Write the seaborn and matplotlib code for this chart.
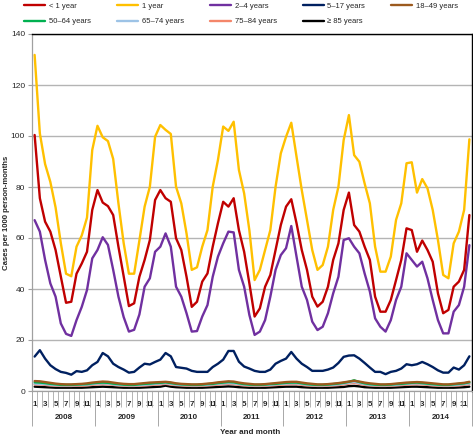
import numpy as np
import pandas as pd
import matplotlib
matplotlib.use('Agg')
import matplotlib.pyplot as plt
import seaborn as sns

sns.set_style('white')
plt.rcParams['font.family'] = ['Liberation Sans', 'DejaVu Sans']

years = [2008, 2009, 2010, 2011, 2012, 2013, 2014]
month_labels = ['1', '', '3', '', '5', '', '7', '', '9', '', '11', '']
groups = ['< 1 year', '1 year', '2–4 years', '5–17 years', '18–49 years',
          '50–64 years', '65–74 years', '75–84 years', '≥ 85 years']
colors = ['#c00000', '#ffc000', '#7030a0', '#002060', '#9c5a1e',
          '#00b050', '#9dc3e6', '#f4866a', '#000000']

# monthly rates per 1000 person-months, Jan 2008 .. Dec 2014
under_1 = [100.4, 75.6, 66.4, 62.5, 55.3, 44.9, 34.6, 35.0, 46.0, 50.0, 54.6, 71.0,
           78.8, 73.9, 72.5, 69.0, 56.6, 45.0, 33.3, 34.4, 44.8, 51.4, 59.2, 74.9,
           78.8, 75.6, 74.2, 59.9, 55.3, 44.8, 33.0, 35.0, 42.9, 46.1, 56.6, 65.8,
           74.2, 72.3, 75.6, 63.1, 54.6, 42.2, 29.2, 32.4, 40.9, 45.5, 55.3, 65.1,
           72.3, 75.2, 65.8, 55.3, 47.5, 37.0, 33.1, 35.0, 40.9, 51.4, 57.9, 71.0,
           77.8, 65.1, 62.5, 56.6, 51.4, 37.0, 31.1, 31.1, 35.7, 43.5, 51.4, 63.8,
           63.1, 54.6, 59.0, 55.3, 50.7, 38.3, 30.5, 31.8, 40.9, 42.9, 47.5, 69.0]
one_year = [131.8, 101.0, 89.0, 82.0, 72.0, 58.0, 46.0, 45.0, 56.6, 61.0, 68.0, 94.5,
            104.0, 99.5, 98.0, 91.0, 73.6, 58.0, 46.0, 46.0, 59.0, 72.3, 80.1, 99.7,
            104.3, 102.4, 100.8, 80.1, 73.6, 61.8, 47.5, 48.5, 56.6, 63.1, 80.1, 90.6,
            103.7, 102.0, 105.6, 86.7, 77.5, 63.0, 43.5, 47.5, 55.3, 63.1, 80.1, 93.2,
            99.7, 105.2, 91.9, 78.8, 67.1, 55.3, 47.5, 49.4, 56.6, 71.0, 80.1, 98.4,
            108.2, 92.5, 89.9, 81.4, 73.6, 56.6, 46.8, 46.8, 52.7, 67.1, 73.6, 89.3,
            89.7, 77.8, 83.1, 79.5, 71.0, 59.2, 45.5, 44.2, 57.9, 62.5, 71.0, 98.7]
age_2_4 = [67.0, 62.5, 51.4, 42.2, 37.0, 26.5, 22.4, 21.6, 27.8, 33.0, 39.6, 52.0,
           55.3, 60.3, 57.3, 47.5, 37.0, 29.0, 23.3, 24.0, 30.0, 40.9, 44.2, 54.6,
           56.6, 61.8, 56.6, 40.9, 37.0, 30.5, 23.3, 23.5, 29.2, 33.7, 44.8, 52.7,
           57.9, 62.5, 62.2, 47.5, 40.9, 29.8, 22.0, 23.3, 27.8, 37.0, 47.5, 53.3,
           56.0, 64.7, 52.7, 40.9, 35.7, 27.2, 23.9, 25.2, 30.5, 38.3, 44.8, 59.2,
           59.9, 56.6, 54.0, 46.1, 39.0, 28.5, 25.2, 23.3, 27.8, 35.7, 40.9, 54.0,
           51.4, 48.8, 50.7, 44.2, 35.7, 27.8, 22.6, 22.6, 31.1, 33.7, 40.9, 57.2]
age_5_17 = [13.5, 16.0, 12.7, 10.1, 8.6, 7.5, 7.1, 6.4, 7.8, 7.5, 8.1, 10.1,
            11.4, 14.9, 13.6, 10.7, 9.4, 8.4, 7.2, 7.5, 9.2, 10.7, 10.4, 11.4,
            12.3, 14.9, 13.6, 9.4, 9.1, 8.8, 7.9, 7.5, 7.5, 7.5, 9.4, 10.7,
            12.3, 15.7, 15.7, 11.5, 9.6, 8.8, 7.9, 7.5, 7.5, 8.4, 10.7, 11.8,
            12.7, 15.3, 12.7, 10.7, 9.4, 7.9, 7.9, 7.9, 8.4, 9.2, 11.0, 13.4,
            13.9, 14.0, 12.7, 11.0, 9.2, 7.5, 7.5, 6.6, 7.5, 7.9, 8.8, 10.5,
            10.1, 10.5, 11.4, 10.5, 9.4, 8.1, 7.2, 7.2, 9.2, 8.4, 10.1, 13.6]
age_18_49 = [3.9, 3.8, 3.5, 3.2, 2.9, 2.7, 2.6, 2.6, 2.7, 2.8, 3.0, 3.3,
             3.5, 3.7, 3.6, 3.3, 3.0, 2.8, 2.7, 2.7, 2.9, 3.1, 3.3, 3.4,
             3.5, 3.6, 3.4, 3.0, 2.8, 2.7, 2.6, 2.6, 2.7, 2.9, 3.1, 3.4,
             3.6, 3.8, 3.7, 3.3, 3.0, 2.8, 2.6, 2.6, 2.7, 2.9, 3.1, 3.3,
             3.5, 3.6, 3.6, 3.3, 3.0, 2.8, 2.6, 2.6, 2.7, 2.9, 3.1, 3.4,
             3.7, 4.0, 3.7, 3.3, 3.0, 2.8, 2.6, 2.6, 2.7, 2.9, 3.1, 3.3,
             3.4, 3.5, 3.4, 3.2, 3.0, 2.8, 2.6, 2.6, 2.8, 3.0, 3.2, 3.6]
age_50_64 = [3.4, 3.3, 3.1, 2.8, 2.6, 2.4, 2.4, 2.4, 2.5, 2.6, 2.7, 3.0,
             3.2, 3.3, 3.2, 2.9, 2.7, 2.5, 2.4, 2.4, 2.6, 2.8, 2.9, 3.1,
             3.2, 3.4, 3.1, 2.8, 2.6, 2.5, 2.4, 2.4, 2.5, 2.7, 2.8, 3.1,
             3.3, 3.5, 3.4, 3.0, 2.7, 2.5, 2.4, 2.4, 2.5, 2.7, 2.8, 3.0,
             3.2, 3.3, 3.3, 3.0, 2.7, 2.5, 2.4, 2.4, 2.5, 2.7, 2.9, 3.2,
             3.6, 4.2, 3.5, 3.0, 2.7, 2.5, 2.4, 2.4, 2.5, 2.7, 2.8, 3.0,
             3.2, 3.3, 3.1, 2.9, 2.7, 2.5, 2.4, 2.4, 2.6, 2.8, 3.0, 3.4]
age_65_74 = [2.9, 2.8, 2.7, 2.5, 2.3, 2.2, 2.2, 2.2, 2.3, 2.4, 2.5, 2.7,
             2.9, 3.0, 2.9, 2.6, 2.4, 2.3, 2.2, 2.2, 2.3, 2.5, 2.6, 2.8,
             2.9, 3.1, 2.8, 2.5, 2.4, 2.3, 2.2, 2.2, 2.3, 2.4, 2.6, 2.8,
             3.0, 3.1, 3.0, 2.7, 2.5, 2.3, 2.2, 2.2, 2.3, 2.4, 2.6, 2.8,
             2.9, 3.0, 3.0, 2.7, 2.5, 2.3, 2.2, 2.2, 2.3, 2.4, 2.6, 2.9,
             3.2, 3.6, 3.1, 2.7, 2.4, 2.3, 2.2, 2.2, 2.3, 2.4, 2.6, 2.8,
             2.9, 3.0, 2.9, 2.7, 2.5, 2.3, 2.2, 2.2, 2.3, 2.5, 2.7, 3.0]
age_75_84 = [2.6, 2.6, 2.4, 2.2, 2.1, 2.0, 2.0, 2.0, 2.1, 2.1, 2.2, 2.4,
             2.6, 2.7, 2.6, 2.4, 2.2, 2.1, 2.0, 2.0, 2.1, 2.2, 2.3, 2.5,
             2.6, 2.8, 2.5, 2.3, 2.2, 2.1, 2.0, 2.0, 2.1, 2.2, 2.3, 2.5,
             2.7, 2.8, 2.7, 2.4, 2.2, 2.1, 2.0, 2.0, 2.1, 2.2, 2.3, 2.5,
             2.6, 2.7, 2.7, 2.4, 2.2, 2.1, 2.0, 2.0, 2.1, 2.2, 2.3, 2.6,
             2.9, 3.2, 2.8, 2.4, 2.2, 2.1, 2.0, 2.0, 2.1, 2.2, 2.3, 2.5,
             2.6, 2.7, 2.6, 2.4, 2.2, 2.1, 2.0, 2.0, 2.1, 2.2, 2.4, 2.7]
age_85_up = [1.7, 1.6, 1.5, 1.4, 1.3, 1.3, 1.3, 1.3, 1.3, 1.3, 1.4, 1.5,
             1.6, 1.7, 1.6, 1.5, 1.4, 1.3, 1.3, 1.3, 1.3, 1.4, 1.5, 1.6,
             1.7, 2.1, 1.7, 1.5, 1.4, 1.3, 1.3, 1.3, 1.3, 1.4, 1.5, 1.6,
             1.7, 1.8, 1.7, 1.5, 1.4, 1.3, 1.3, 1.3, 1.3, 1.4, 1.5, 1.6,
             1.7, 1.7, 1.7, 1.5, 1.4, 1.3, 1.3, 1.3, 1.3, 1.4, 1.5, 1.6,
             1.9, 2.0, 1.8, 1.5, 1.4, 1.3, 1.3, 1.3, 1.3, 1.4, 1.5, 1.6,
             1.7, 1.7, 1.6, 1.5, 1.4, 1.3, 1.3, 1.3, 1.3, 1.4, 1.5, 1.7]

series = [under_1, one_year, age_2_4, age_5_17, age_18_49,
          age_50_64, age_65_74, age_75_84, age_85_up]
n = len(years) * 12
df = pd.DataFrame({
    'idx': np.tile(np.arange(n), len(groups)),
    'rate': np.concatenate(series),
    'group': np.repeat(groups, n),
})

fig = plt.figure(figsize=(4.73, 4.37), dpi=100)
ax = fig.add_axes([32 / 473, 1 - 391 / 437, 440 / 473, 357 / 437])

# small groups first so the big ones sit on top
order = groups[::-1]
sns.lineplot(data=df, x='idx', y='rate', hue='group', hue_order=order,
             palette=dict(zip(groups, colors)), estimator=None,
             linewidth=1.7, legend=False, ax=ax)

ax.set_xlim(-0.5, n - 0.5)
ax.set_ylim(0, 140)
ax.set_yticks(np.arange(0, 141, 20))
ax.yaxis.grid(True, color='#b4b4b4', lw=1.0)
ax.set_axisbelow(True)
ax.tick_params(axis='y', which='major', left=True, length=3, width=0.8,
               color='#a0a0a0', labelsize=6, pad=2)

# month row
ax.set_xticks(np.arange(n))
ax.set_xticklabels(month_labels * len(years), fontsize=5.8, fontweight='bold')
ax.set_xticks(np.arange(-0.5, n, 1), minor=True)
ax.tick_params(axis='x', which='major', length=0, pad=7)
ax.tick_params(axis='x', which='minor', bottom=True, length=11.5, width=0.6,
               color='#a8a8a8')

# year row
sep = ax.secondary_xaxis('bottom')
sep.set_xticks(np.arange(-0.5, n, 12))
sep.set_xticklabels([])
sep.tick_params(length=25, width=0.7, color='#a8a8a8')
sep.spines['bottom'].set_visible(False)

yr = ax.secondary_xaxis('bottom')
yr.set_xticks(np.arange(5.5, n, 12))
yr.set_xticklabels([str(y) for y in years], fontsize=5.8, fontweight='bold')
yr.tick_params(length=0, pad=16.5)
yr.spines['bottom'].set_visible(False)

for s in ['left', 'bottom']:
    ax.spines[s].set_color('#a0a0a0')
    ax.spines[s].set_linewidth(0.9)
for s in ['top', 'right']:
    ax.spines[s].set_color('#000000')
    ax.spines[s].set_linewidth(1.0)

ax.set_ylabel('Cases per 1000 person-months', fontsize=5.6, fontweight='bold')
ax.yaxis.set_label_coords(-0.05, 0.5)
ax.set_xlabel('Year and month', fontsize=5.8, fontweight='bold')
ax.xaxis.set_label_coords(0.495, -0.106)

# legend laid out row by row like the original
handles = [plt.Line2D([], [], color=c, lw=1.7) for c in colors]
rows = [0, 5, 1, 6, 2, 7, 3, 8, 4]
fig.legend([handles[i] for i in rows], [groups[i] for i in rows], ncol=5,
           loc='upper left', bbox_to_anchor=(24 / 473, 0.994), frameon=False,
           fontsize=5.5, handlelength=2.75, handletextpad=0.5,
           columnspacing=3.4, borderaxespad=0, borderpad=0, labelspacing=1.05)

fig.savefig('out.png', dpi=100)
